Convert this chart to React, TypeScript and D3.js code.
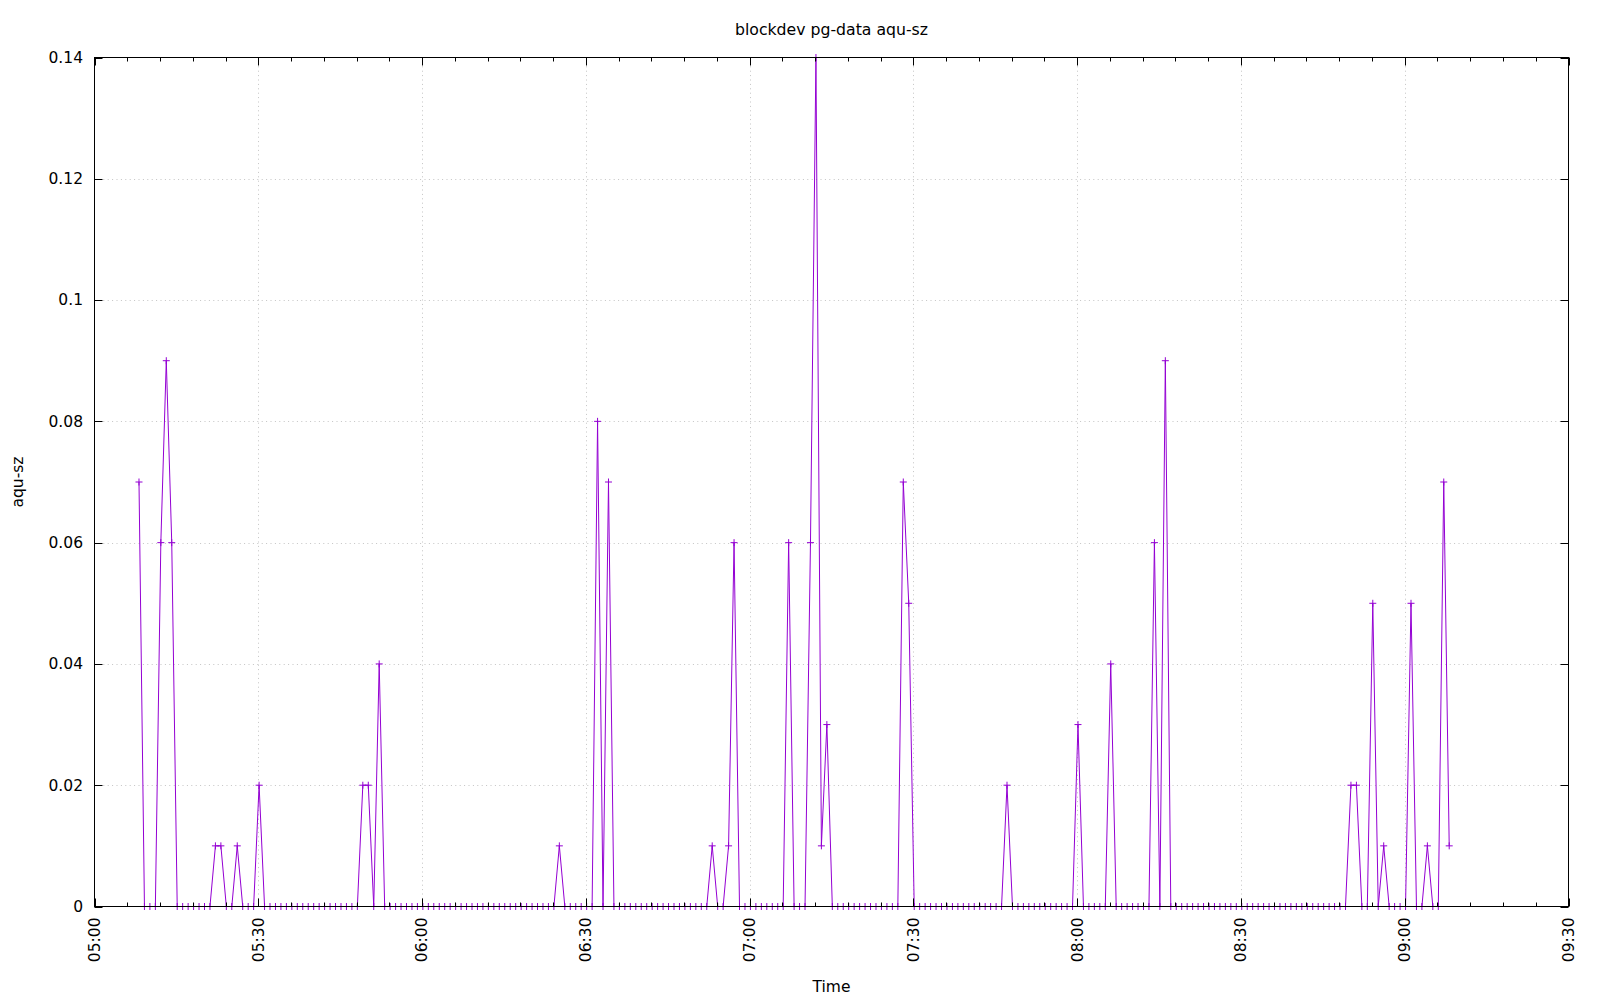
import React from "react";
import * as d3 from "d3";

// ---- chart text ----
const chartTitle = "blockdev pg-data aqu-sz";
const xAxisLabel = "Time";
const yAxisLabel = "aqu-sz";

// ---- axes ----
const xDomainTimes = ["05:00:00", "09:30:00"];
const xMajorStepMinutes = 30;
const xMinorStepMinutes = 6;
const yDomain = [0, 0.14];
const yTickValues = [0, 0.02, 0.04, 0.06, 0.08, 0.1, 0.12, 0.14];
const yTickLabels = ["0", "0.02", "0.04", "0.06", "0.08", "0.1", "0.12", "0.14"];

// ---- samples (one per minute, starting at firstSampleTime) ----
const firstSampleTime = "05:08:09";
const sampleStepMinutes = 1;
const aquSzValues = [
  // 05:08 - 05:17
  0.07, 0, 0, 0, 0.06, 0.09, 0.06, 0, 0, 0,
  // 05:18 - 05:27
  0, 0, 0, 0, 0.01, 0.01, 0, 0, 0.01, 0,
  // 05:28 - 05:37
  0, 0, 0.02, 0, 0, 0, 0, 0, 0, 0,
  // 05:38 - 05:47
  0, 0, 0, 0, 0, 0, 0, 0, 0, 0,
  // 05:48 - 05:57
  0, 0.02, 0.02, 0, 0.04, 0, 0, 0, 0, 0,
  // 05:58 - 06:07
  0, 0, 0, 0, 0, 0, 0, 0, 0, 0,
  // 06:08 - 06:17
  0, 0, 0, 0, 0, 0, 0, 0, 0, 0,
  // 06:18 - 06:27
  0, 0, 0, 0, 0, 0, 0, 0.01, 0, 0,
  // 06:28 - 06:37
  0, 0, 0, 0, 0.08, 0, 0.07, 0, 0, 0,
  // 06:38 - 06:47
  0, 0, 0, 0, 0, 0, 0, 0, 0, 0,
  // 06:48 - 06:57
  0, 0, 0, 0, 0, 0.01, 0, 0, 0.01, 0.06,
  // 06:58 - 07:07
  0, 0, 0, 0, 0, 0, 0, 0, 0, 0.06,
  // 07:08 - 07:17
  0, 0, 0, 0.06, 0.14, 0.01, 0.03, 0, 0, 0,
  // 07:18 - 07:27
  0, 0, 0, 0, 0, 0, 0, 0, 0, 0,
  // 07:28 - 07:37
  0.07, 0.05, 0, 0, 0, 0, 0, 0, 0, 0,
  // 07:38 - 07:47
  0, 0, 0, 0, 0, 0, 0, 0, 0, 0.02,
  // 07:48 - 07:57
  0, 0, 0, 0, 0, 0, 0, 0, 0, 0,
  // 07:58 - 08:07
  0, 0, 0.03, 0, 0, 0, 0, 0, 0.04, 0,
  // 08:08 - 08:17
  0, 0, 0, 0, 0, 0, 0.06, 0, 0.09, 0,
  // 08:18 - 08:27
  0, 0, 0, 0, 0, 0, 0, 0, 0, 0,
  // 08:28 - 08:37
  0, 0, 0, 0, 0, 0, 0, 0, 0, 0,
  // 08:38 - 08:47
  0, 0, 0, 0, 0, 0, 0, 0, 0, 0,
  // 08:48 - 08:57
  0, 0, 0.02, 0.02, 0, 0, 0.05, 0, 0.01, 0,
  // 08:58 - 09:07
  0, 0, 0, 0.05, 0, 0, 0.01, 0, 0, 0.07,
  // 09:08
  0.01,
];

const W = 1600;
const H = 1000;
const M = { left: 94.5, right: 1568.5, top: 57.5, bottom: 906.5 };
const FONT = "'DejaVu Sans', sans-serif";
const FS = 15.5;
const LINE_COLOR = "#9400d3";

export default function App() {
  const parse = d3.timeParse("%H:%M:%S");
  const xDom = xDomainTimes.map((t) => parse(t) as Date);
  const x = d3.scaleTime().domain(xDom).range([M.left, M.right]);
  const y = d3.scaleLinear().domain(yDomain).range([M.bottom, M.top]);

  const start = parse(firstSampleTime) as Date;
  const data = aquSzValues.map((v, i) => ({
    t: d3.timeMinute.offset(start, i * sampleStepMinutes),
    v,
  }));

  const majorTicks = x.ticks(d3.timeMinute.every(xMajorStepMinutes) as any);
  const minorTicks = x
    .ticks(d3.timeMinute.every(xMinorStepMinutes) as any)
    .filter((d) => !majorTicks.some((m) => +m === +d));
  const fmt = d3.timeFormat("%H:%M");

  const line = d3
    .line<{ t: Date; v: number }>()
    .x((d) => x(d.t))
    .y((d) => y(d.v));

  const gridStyle = { stroke: "#c4c4c4", strokeWidth: 1, strokeDasharray: "1,3.4" };

  return (
    <svg
      width={W}
      height={H}
      style={{ position: "absolute", left: 0, top: 0, background: "#fff" }}
      fontFamily={FONT}
    >
      <rect x={0} y={0} width={W} height={H} fill="#fff" />
      {/* grid */}
      {yTickValues.slice(1, -1).map((v) => (
        <line key={"gy" + v} x1={M.left} x2={M.right} y1={Math.round(y(v)) + 0.5} y2={Math.round(y(v)) + 0.5} {...gridStyle} />
      ))}
      {majorTicks.slice(1, -1).map((d) => (
        <line key={"gx" + +d} x1={Math.round(x(d)) + 0.5} x2={Math.round(x(d)) + 0.5} y1={M.top} y2={M.bottom} {...gridStyle} />
      ))}

      {/* data */}
      <path d={line(data) as string} fill="none" stroke={LINE_COLOR} strokeWidth={1} />
      {data.map((d, i) => {
        const px = x(d.t);
        const py = y(d.v);
        return (
          <path
            key={"p" + i}
            d={`M${px - 3.5},${py}H${px + 3.5}M${px},${py - 3.5}V${py + 3.5}`}
            stroke={LINE_COLOR}
            strokeWidth={1}
            fill="none"
          />
        );
      })}

      {/* ticks */}
      {yTickValues.map((v) => {
        const py = Math.round(y(v)) + 0.5;
        return (
          <g key={"yt" + v}>
            <line x1={M.left} x2={M.left + 8} y1={py} y2={py} stroke="#000" />
            <line x1={M.right - 8} x2={M.right} y1={py} y2={py} stroke="#000" />
          </g>
        );
      })}
      {majorTicks.map((d) => {
        const px = Math.round(x(d)) + 0.5;
        return (
          <g key={"xt" + +d}>
            <line x1={px} x2={px} y1={M.bottom} y2={M.bottom - 8} stroke="#000" />
            <line x1={px} x2={px} y1={M.top} y2={M.top + 8} stroke="#000" />
          </g>
        );
      })}
      {minorTicks.map((d) => {
        const px = Math.round(x(d)) + 0.5;
        return (
          <g key={"xm" + +d}>
            <line x1={px} x2={px} y1={M.bottom} y2={M.bottom - 4} stroke="#000" />
            <line x1={px} x2={px} y1={M.top} y2={M.top + 4} stroke="#000" />
          </g>
        );
      })}

      {/* border */}
      <rect x={M.left} y={M.top} width={M.right - M.left} height={M.bottom - M.top} fill="none" stroke="#000" strokeWidth={1} />

      {/* y tick labels */}
      {yTickValues.map((v, i) => (
        <text key={"yl" + v} x={83} y={y(v)} dy="0.35em" textAnchor="end" fontSize={FS} fill="#000">
          {yTickLabels[i]}
        </text>
      ))}
      {/* x tick labels */}
      {majorTicks.map((d) => (
        <text
          key={"xl" + +d}
          transform={`translate(${x(d)},${M.bottom + 11}) rotate(-90)`}
          dy="0.35em"
          textAnchor="end"
          fontSize={FS}
          fill="#000"
        >
          {fmt(d)}
        </text>
      ))}

      {/* titles */}
      <text x={(M.left + M.right) / 2} y={35} textAnchor="middle" fontSize={15.7} fill="#000">
        {chartTitle}
      </text>
      <text x={(M.left + M.right) / 2} y={992} textAnchor="middle" fontSize={FS} fill="#000">
        {xAxisLabel}
      </text>
      <text
        transform={`translate(${23},${(M.top + M.bottom) / 2}) rotate(-90)`}
        textAnchor="middle"
        fontSize={FS}
        fill="#000"
      >
        {yAxisLabel}
      </text>
    </svg>
  );
}
